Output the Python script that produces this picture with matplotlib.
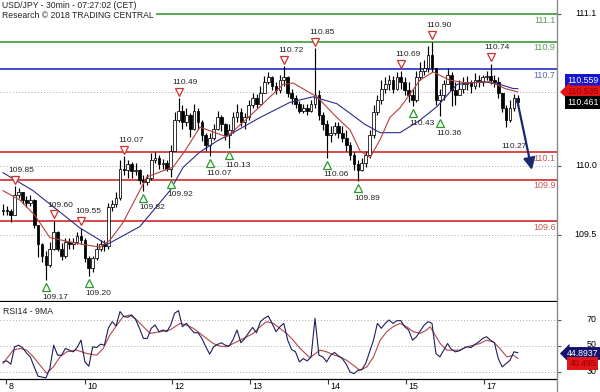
import numpy as np
import matplotlib
matplotlib.use('Agg')
import matplotlib.pyplot as plt
from matplotlib.transforms import ScaledTranslation
from matplotlib.lines import Line2D

plt.rcParams['font.family'] = ['Liberation Sans', 'DejaVu Sans']

title = 'USD/JPY - 30min - 07:27:02 (CET)'
subtitle = 'Research \u00a9 2018 TRADING CENTRAL'
rsi_title = 'RSI14 - 9MA'

first_open = 109.67
close = [109.68, 109.67, 109.64, 109.79, 109.81, 109.75, 109.73, 109.75, 109.57, 109.43,
         109.35, 109.28, 109.40, 109.52, 109.40, 109.35, 109.45, 109.43, 109.45, 109.49,
         109.46, 109.33, 109.26, 109.33, 109.40, 109.43, 109.42, 109.70, 109.72, 109.77,
         109.98, 109.97, 110.01, 109.96, 109.97, 109.90, 109.88, 109.91, 110.04, 110.06,
         110.01, 110.02, 109.98, 110.11, 110.33, 110.40, 110.32, 110.37, 110.27, 110.40,
         110.32, 110.22, 110.15, 110.20, 110.27, 110.35, 110.30, 110.22, 110.26, 110.35,
         110.39, 110.32, 110.35, 110.44, 110.49, 110.45, 110.53, 110.61, 110.64, 110.58,
         110.55, 110.62, 110.64, 110.53, 110.49, 110.45, 110.40, 110.42, 110.40, 110.45,
         110.51, 110.37, 110.30, 110.22, 110.24, 110.29, 110.24, 110.20, 110.15, 110.08,
         110.01, 109.97, 110.02, 110.08, 110.22, 110.39, 110.48, 110.56, 110.59, 110.62,
         110.56, 110.64, 110.61, 110.55, 110.51, 110.48, 110.64, 110.69, 110.71, 110.80,
         110.71, 110.48, 110.51, 110.59, 110.66, 110.55, 110.51, 110.56, 110.59, 110.61,
         110.58, 110.62, 110.61, 110.64, 110.65, 110.62, 110.61, 110.53, 110.42, 110.33,
         110.42, 110.49, 110.461]
high = [109.72, 109.71, 109.69, 109.85, 109.84, 109.81, 109.78, 109.79, 109.76, 109.57,
        109.44, 109.38, 109.45, 109.60, 109.53, 109.44, 109.48, 109.48, 109.48, 109.52,
        109.55, 109.48, 109.35, 109.35, 109.44, 109.46, 109.46, 109.73, 109.75, 109.81,
        110.04, 110.07, 110.04, 110.03, 110.02, 109.98, 109.93, 109.94, 110.09, 110.10,
        110.08, 110.05, 110.04, 110.15, 110.39, 110.49, 110.44, 110.42, 110.38, 110.45,
        110.42, 110.33, 110.24, 110.24, 110.30, 110.40, 110.37, 110.31, 110.30, 110.39,
        110.45, 110.42, 110.38, 110.48, 110.53, 110.52, 110.58, 110.65, 110.68, 110.65,
        110.61, 110.66, 110.72, 110.65, 110.56, 110.51, 110.47, 110.45, 110.45, 110.48,
        110.85, 110.55, 110.39, 110.33, 110.29, 110.32, 110.32, 110.29, 110.26, 110.17,
        110.10, 110.04, 110.06, 110.11, 110.26, 110.44, 110.51, 110.62, 110.64, 110.66,
        110.65, 110.68, 110.69, 110.64, 110.61, 110.56, 110.69, 110.75, 110.77, 110.87,
        110.90, 110.71, 110.56, 110.62, 110.71, 110.68, 110.61, 110.62, 110.64, 110.65,
        110.62, 110.67, 110.66, 110.66, 110.69, 110.74, 110.66, 110.64, 110.53, 110.44,
        110.48, 110.52, 110.51]
low = [109.64, 109.64, 109.59, 109.65, 109.77, 109.72, 109.70, 109.71, 109.55, 109.34,
       109.30, 109.17, 109.27, 109.39, 109.38, 109.32, 109.33, 109.40, 109.40, 109.43,
       109.43, 109.30, 109.20, 109.23, 109.32, 109.38, 109.38, 109.40, 109.67, 109.70,
       109.75, 109.93, 109.91, 109.91, 109.93, 109.87, 109.82, 109.86, 109.90, 110.02,
       109.98, 109.98, 109.96, 109.92, 110.11, 110.32, 110.27, 110.29, 110.21, 110.26,
       110.27, 110.18, 110.11, 110.07, 110.19, 110.26, 110.25, 110.19, 110.13, 110.24,
       110.32, 110.29, 110.27, 110.33, 110.42, 110.42, 110.46, 110.53, 110.59, 110.55,
       110.52, 110.53, 110.58, 110.50, 110.45, 110.42, 110.38, 110.38, 110.37, 110.39,
       110.42, 110.33, 110.26, 110.06, 110.17, 110.22, 110.20, 110.17, 110.11, 110.04,
       109.97, 109.89, 109.96, 109.99, 110.06, 110.20, 110.37, 110.45, 110.53, 110.55,
       110.53, 110.55, 110.56, 110.51, 110.46, 110.43, 110.46, 110.62, 110.66, 110.68,
       110.68, 110.44, 110.36, 110.48, 110.61, 110.43, 110.44, 110.51, 110.53, 110.55,
       110.53, 110.56, 110.57, 110.58, 110.62, 110.59, 110.57, 110.49, 110.39, 110.28,
       110.32, 110.40, 110.43]

# moving averages on price (bar index, value)
fast_ma_idx = [0, 4.4, 8.2, 12, 18.5, 24.9, 27.4, 30.8, 36.9, 43.6, 46.7, 50.5, 54.4, 57.4,
               62.1, 65.9, 71.8, 74.4, 77.4, 80.5, 85.6, 89, 91.5, 94.1, 96.7, 99.2, 101.8,
               106.9, 110.3, 114.6, 119, 124.9, 128.7, 132]
fast_ma_val = [109.82, 109.75, 109.64, 109.48, 109.44, 109.41, 109.46, 109.59, 109.92, 109.99,
               110.11, 110.28, 110.24, 110.21, 110.33, 110.43, 110.59, 110.60, 110.55, 110.50,
               110.35, 110.26, 110.11, 110.06, 110.19, 110.35, 110.42, 110.62, 110.68, 110.62,
               110.60, 110.61, 110.56, 110.535]
slow_ma_idx = [0, 7.7, 19.7, 26.7, 35.1, 42.8, 46.2, 50.5, 54.9, 59, 65.9, 73.6, 79.5, 85.6,
               89, 92.8, 96.7, 101.8, 106.9, 111.3, 116.4, 123, 127.4, 130.8, 132]
slow_ma_val = [109.95, 109.82, 109.55, 109.43, 109.56, 109.82, 109.99, 110.10, 110.18, 110.24,
               110.35, 110.46, 110.50, 110.45, 110.38, 110.30, 110.24, 110.24, 110.33, 110.43,
               110.59, 110.61, 110.59, 110.56, 110.559]

rsi = [37.8, 38.5, 36.0, 49.4, 50.6, 48.8, 44.7, 41.6, 33.9, 26.7,
       26.1, 25.4, 32.6, 50.6, 42.9, 42.9, 48.1, 46.8, 45.5, 48.8,
       54.5, 37.8, 34.4, 49.4, 48.8, 51.4, 50.6, 63.6, 68.7, 65.4,
       76.5, 72.6, 72.1, 73.9, 70.5, 63.6, 55.8, 55.8, 63.6, 66.1,
       61.0, 62.3, 61.0, 66.1, 75.2, 77.2, 64.8, 67.4, 63.6, 60.2,
       60.2, 55.8, 49.4, 43.7, 49.4, 51.2, 52.5, 50.6, 49.9, 55.0,
       62.3, 52.5, 55.8, 60.2, 64.3, 60.2, 68.7, 71.3, 73.1, 67.4,
       61.0, 64.8, 67.4, 54.5, 47.3, 45.5, 37.8, 40.3, 38.5, 41.6,
       71.3, 42.9, 41.6, 37.8, 42.9, 45.0, 42.4, 40.3, 36.0, 30.0,
       28.7, 31.3, 31.8, 36.5, 45.5, 54.5, 67.4, 63.6, 67.4, 70.0,
       67.4, 69.5, 69.5, 64.8, 62.3, 54.5, 57.1, 61.7, 66.1, 68.7,
       67.4, 44.2, 41.6, 46.8, 51.9, 47.3, 45.5, 46.3, 48.1, 49.4,
       48.8, 51.2, 53.2, 55.8, 57.1, 54.5, 52.5, 40.3, 33.9, 36.5,
       39.0, 45.5, 44.8937]
rsi_ma_idx = [0, 2.6, 4.4, 6.1, 7.8, 9.5, 11.2, 12.9, 14.6, 16.3, 18.9, 21.5, 24, 25.7, 27.4,
              29.2, 30.8, 32.6, 34.3, 36, 37.7, 40.3, 42.8, 45.4, 47.1, 48.8, 50.5, 52.2, 53.9,
              55.6, 57.4, 59, 60.8, 62.5, 64.2, 65.9, 67.6, 69.3, 71, 72.7, 74.4, 76.2, 78.7,
              81.3, 83, 85, 86.4, 88.1, 89.8, 91.5, 93.3, 95, 96.7, 98.4, 100, 101.8, 103.5,
              105.2, 107, 108.6, 109.5, 110.3, 112.1, 113.8, 115.5, 117.2, 118.9, 120.6, 122.3,
              124, 125.7, 127.4, 129.2, 130.9, 132]
rsi_ma_val = [36.5, 46.8, 48.1, 46.8, 41.6, 35.2, 29.0, 33.9, 41.6, 45.5, 46.8, 44.2, 42.9, 48.1,
              58.4, 66.1, 72.6, 73.9, 70.0, 64.8, 59.7, 61.0, 62.3, 67.4, 66.1, 63.6, 59.7, 55.8,
              51.9, 49.9, 49.4, 51.9, 54.5, 57.1, 59.7, 64.8, 68.7, 67.4, 63.6, 59.7, 54.5, 48.0,
              41.0, 46.8, 45.5, 42.9, 41.6, 39.0, 35.2, 31.3, 33.9, 41.6, 54.5, 61.0, 64.8, 67.4,
              64.8, 61.0, 59.7, 62.3, 64.8, 61.0, 51.9, 46.8, 46.8, 46.8, 49.4, 50.6, 51.9, 54.5,
              53.2, 48.1, 41.6, 42.9, 40.495]

day_labels = ['8', '10', '12', '13', '14', '15', '17']
day_pos = [0.8, 21, 43.3, 63.3, 83.3, 103.3, 123.3]

resistance = [111.1, 110.9]
pivot = [110.7]
support = [110.1, 109.9, 109.6]
level_labels = {111.1: '111.1', 110.9: '110.9', 110.7: '110.7', 110.1: '110.1', 109.9: '109.9', 109.6: '109.6'}

peak_idx = [3, 13, 20, 31, 45, 72, 80, 102, 110, 125]
peak_val = [109.85, 109.60, 109.55, 110.07, 110.49, 110.72, 110.85, 110.69, 110.90, 110.74]
trough_idx = [11, 22, 36, 43, 53, 58, 83, 91, 105, 112]
trough_val = [109.17, 109.20, 109.82, 109.92, 110.07, 110.13, 110.06, 109.89, 110.43, 110.36]

price_ticks = [111.1, 110.0, 109.5]
price_tick_labels = ['111.1', '110.0', '109.5']
rsi_ticks = [70, 50, 30]
price_grid = [110.0, 109.5]
last_price_line = 110.535

last_close = 110.461
last_fast = 110.535
last_slow = 110.559
last_rsi = 44.8937
last_rsi_ma = 40.495

forecast_idx = [131.8, 135.6]
forecast_val = [110.48, 109.97]
target_text = '110.27'
target_idx = 130.9
target_val = 110.14

# ---------------- figure -----------------
W, H = 600, 392
fig = plt.figure(figsize=(6.0, 3.92), dpi=100)
fig.patch.set_facecolor('white')

px = lambda v: v / W
py = lambda v: v / H

ax = fig.add_axes([0, 1 - py(301), px(557), py(301)])
ax2 = fig.add_axes([0, 1 - py(379), px(557), py(77)])

xlim = (-0.77, 142.05)
for a in (ax, ax2):
    a.set_xlim(*xlim)
    a.set_facecolor('white')
    for s in ('top', 'left', 'right'):
        a.spines[s].set_visible(False)
    a.spines['bottom'].set_color('black')
    a.spines['bottom'].set_linewidth(0.9)

ax.set_ylim(109.0203, 111.2014)
ax2.set_ylim(24.6, 83.85)

FS = 6.0
idx = np.arange(len(close))
c = np.array(close)
o = np.r_[first_open, c[:-1]]
h = np.maximum(np.array(high), np.maximum(o, c))
l = np.minimum(np.array(low), np.minimum(o, c))

# grid dotted lines
dot = (0, (1, 2.2))
for g in price_grid:
    ax.axhline(g, color='#a8a8a8', lw=0.7, ls=dot, zorder=1)
ax.axhline(last_price_line, color='#a8a8a8', lw=0.7, ls=dot, zorder=1)
for g in rsi_ticks:
    ax2.axhline(g, color='#a8a8a8', lw=0.7, ls=dot, zorder=1)

# level lines
for lv in resistance:
    ax.axhline(lv, color='#3a9a3a', lw=1.2, zorder=2)
for lv in pivot:
    ax.axhline(lv, color='#1f2fc4', lw=1.2, zorder=2)
for lv in support:
    ax.axhline(lv, color='#d42a2a', lw=1.2, zorder=2)

lab_col = {}
for lv in resistance:
    lab_col[lv] = '#5f9a5f'
for lv in pivot:
    lab_col[lv] = '#5a68a8'
for lv in support:
    lab_col[lv] = '#c45a5a'
for lv, txt in level_labels.items():
    ax.annotate(txt, xy=(1, lv), xycoords=('axes fraction', 'data'), xytext=(-1, -4.4),
                textcoords='offset points', ha='right', va='center', fontsize=FS + 0.5,
                color=lab_col[lv], zorder=6)

# candles
ax.vlines(idx, l, h, color='black', lw=0.85, zorder=3)
up = c >= o
body_h = np.maximum(np.abs(c - o), 0.005)
ax.bar(idx, body_h, bottom=np.minimum(o, c), width=0.68,
       color=np.where(up, 'white', 'black'), edgecolor='black', linewidth=0.55, zorder=4)

# moving averages
ax.plot(slow_ma_idx, slow_ma_val, color='#2d2d8a', lw=0.8, zorder=5)
ax.plot(fast_ma_idx, fast_ma_val, color='#b5403f', lw=0.8, zorder=5)

# peaks / troughs markers
up_off = ScaledTranslation(0, 6.5 / 100, fig.dpi_scale_trans)
dn_off = ScaledTranslation(0, -7 / 100, fig.dpi_scale_trans)
ax.plot(peak_idx, peak_val, ls='none', marker='v', ms=6, mfc='white', mec='#d03030', mew=0.9,
        transform=ax.transData + up_off, zorder=6)
ax.plot(trough_idx, trough_val, ls='none', marker='^', ms=6, mfc='white', mec='#2a9a2a', mew=0.9,
        transform=ax.transData + dn_off, zorder=6)
for i, v in zip(peak_idx, peak_val):
    ax.annotate(f'{v:.2f}', xy=(i, v), xytext=(5, 11.5), textcoords='offset points',
                ha='center', va='center', fontsize=FS, color='#222222', zorder=7)
for i, v in zip(trough_idx, trough_val):
    ax.annotate(f'{v:.2f}', xy=(i, v), xytext=(6.5, -12.5), textcoords='offset points',
                ha='center', va='center', fontsize=FS, color='#222222', zorder=7)

# forecast arrow
ax.annotate('', xy=(forecast_idx[1], forecast_val[1]), xytext=(forecast_idx[0], forecast_val[0]),
            arrowprops=dict(arrowstyle='-|>,head_length=0.7,head_width=0.35', color='#1a2a70',
                            lw=1.6, shrinkA=0, shrinkB=0), zorder=8)
ax.text(target_idx, target_val, target_text, ha='center', va='center', fontsize=FS,
        color='#222222', zorder=7)

# price axis ticks and labels
ax.set_xticks([])
ax.set_yticks(price_ticks)
ax.tick_params(axis='y', which='both', right=True, left=False, labelleft=False,
               labelright=False, direction='out', length=3, width=0.8, color='#555555')
for v, t in zip(price_ticks, price_tick_labels):
    ax.annotate(t, xy=(1, v), xycoords=('axes fraction', 'data'), xytext=(28.6, 0),
                textcoords='offset points', ha='right', va='center', fontsize=FS + 0.4,
                color='black')

# value boxes on price axis
def vbox(a, val, txt, fc, tc, dy=0, arrow=False):
    style = 'larrow,pad=0.22' if arrow else 'square,pad=0.22'
    a.annotate(txt, xy=(1, val), xycoords=('axes fraction', 'data'),
               xytext=(18.5, dy), textcoords='offset points', ha='center', va='center',
               fontsize=FS + 0.3, color=tc, annotation_clip=False,
               bbox=dict(boxstyle=style, fc=fc, ec='none'), zorder=10)

vbox(ax, last_slow, f'{last_slow:.3f}', '#1515d0', 'white', dy=5.8)
vbox(ax, last_fast, f'{last_fast:.3f}', '#e01515', '#9a0000', dy=0, arrow=True)
vbox(ax, last_close, f'{last_close:.3f}', 'black', 'white', dy=-0.5)

# RSI panel
ax2.plot(idx, rsi, color='#1e1e5a', lw=0.8, zorder=4)
ax2.plot(rsi_ma_idx, rsi_ma_val, color='#b04848', lw=0.8, zorder=3)
ax2.text(0.005, 0.94, rsi_title, transform=ax2.transAxes, ha='left', va='top', fontsize=FS + 0.3,
         color='#222222')
ax2.set_yticks(rsi_ticks)
ax2.tick_params(axis='y', which='both', right=True, left=False, labelleft=False,
                labelright=False, direction='out', length=3, width=0.8, color='#555555')
for v in rsi_ticks:
    ax2.annotate(str(v), xy=(1, v), xycoords=('axes fraction', 'data'), xytext=(28.6, 1.2 if v == 50 else 0),
                 textcoords='offset points', ha='right', va='center', fontsize=FS + 0.4,
                 color='black')
vbox(ax2, last_rsi, f'{last_rsi:.4f}', '#14146e', 'white', dy=-0.6, arrow=True)
vbox(ax2, last_rsi_ma, f'{last_rsi_ma:.3f}', '#e01515', '#9a0000', dy=-3.6)

ax2.set_xticks(day_pos)
ax2.set_xticklabels([])
ax2.tick_params(axis='x', direction='out', length=3.5, width=0.8, color='#333333')
for p, t in zip(day_pos, day_labels):
    ax2.annotate(t, xy=(p, 0), xycoords=('data', 'axes fraction'), xytext=(1.5, -2.2),
                 textcoords='offset points', ha='left', va='top', fontsize=FS + 0.4,
                 color='black')

# right vertical separator spanning full height
fig.add_artist(Line2D([px(557), px(557)], [0, 1], transform=fig.transFigure,
                      color='#8a8a8a', lw=1.0))

# title block
fig.text(px(2.5), 1 - py(1), title + '\n' + subtitle, ha='left', va='top', fontsize=FS + 0.2,
         linespacing=1.2, color='#222222',
         bbox=dict(boxstyle='square,pad=0.25', fc='white', ec='none'), zorder=20)

fig.savefig('out.png', dpi=100, facecolor='white')
